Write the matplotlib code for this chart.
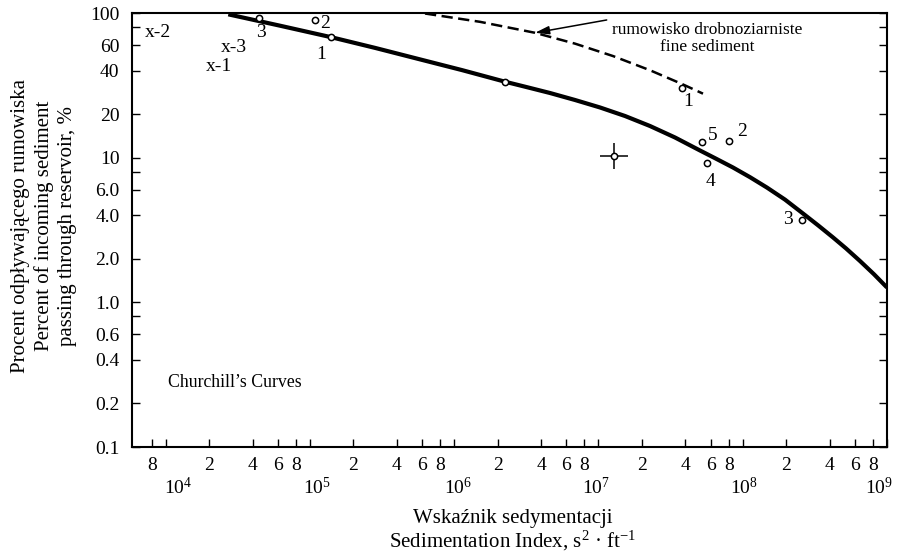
import matplotlib
matplotlib.use('Agg')
import matplotlib.pyplot as plt
from matplotlib.ticker import FixedLocator, FixedFormatter, NullLocator

plt.rcParams['font.family'] = ['Liberation Serif', 'DejaVu Serif']
plt.rcParams['mathtext.fontset'] = 'custom'
plt.rcParams['mathtext.rm'] = 'Liberation Serif'
plt.rcParams['mathtext.it'] = 'Liberation Serif:italic'
plt.rcParams['mathtext.default'] = 'regular'

# ---------------- data ----------------
# Churchill's curve (solid)
curve_x = [2.716e4, 6.20e4, 1.415e5, 2.824e5, 5.79e5, 1.132e6, 2.249e6, 3.095e6,
           4.613e6, 6.877e6, 1.025e7, 1.527e7, 2.276e7, 3.391e7, 5.055e7, 6.527e7,
           8.56e7, 1.123e8, 1.473e8, 1.963e8, 2.617e8, 3.324e8, 4.224e8, 5.197e8,
           6.501e8, 8.127e8, 1.0e9]
curve_y = [97.9, 81.7, 67.9, 57.4, 47.8, 40.3, 33.5, 30.95,
           27.99, 25.04, 22.23, 19.41, 16.55, 13.79, 11.21, 9.84,
           8.55, 7.33, 6.21, 5.13, 4.11, 3.41, 2.81, 2.36,
           1.93, 1.563, 1.266]

# fine sediment curve (dashed)
fine_x = [6.274e5, 1.509e6, 3.631e6, 6.877e6, 1.261e7, 2.276e7, 3.793e7, 5.303e7]
fine_y = [99.2, 86.9, 72.98, 61.4, 50.4, 40.2, 32.3, 27.7]

# observed points (open circles) and their labels
pts_x = [4.43e4, 1.09e5, 1.41e5, 2.25e6, 3.79e7, 5.19e7, 8.06e7, 5.64e7, 2.58e8]
pts_y = [92.8, 89.5, 67.9, 33.5, 30.2, 12.9, 13.1, 9.15, 3.71]
pts_labels = ['3', '2', '1', '', '1', '5', '2', '4', '3']

# point with range cross
cross_x = [1.28e7]
cross_y = [10.2]
cross_factor_x = 1.25
cross_factor_y = 1.23

# tick values and labels
x_tick_vals = [8e3, 1e4, 2e4, 4e4, 6e4, 8e4, 1e5, 2e5, 4e5, 6e5, 8e5, 1e6,
               2e6, 4e6, 6e6, 8e6, 1e7, 2e7, 4e7, 6e7, 8e7, 1e8,
               2e8, 4e8, 6e8, 8e8, 1e9]
x_tick_labels = ['8', '', '2', '4', '6', '8', '', '2', '4', '6', '8', '',
                 '2', '4', '6', '8', '', '2', '4', '6', '8', '',
                 '2', '4', '6', '8', '']
x_decades = [1e4, 1e5, 1e6, 1e7, 1e8, 1e9]
x_decade_labels = [r'$10^{4}$', r'$10^{5}$', r'$10^{6}$', r'$10^{7}$', r'$10^{8}$', r'$10^{9}$']

y_tick_vals = [0.1, 0.2, 0.4, 0.6, 0.8, 1, 2, 4, 6, 8, 10, 20, 40, 60, 80, 100]
y_tick_labels = ['0.1', '0.2', '0.4', '0.6', '', '1.0', '2.0', '4.0', '6.0', '',
                 '10', '20', '40', '60', '', '100']

# ---------------- figure ----------------
W, H = 897, 552
fig = plt.figure(figsize=(W / 100, H / 100), dpi=100)
ax = fig.add_axes([132 / W, (H - 447) / H, (887 - 132) / W, (447 - 13) / H])
ax.set_xscale('log')
ax.set_yscale('log')
ax.set_xlim(5.84e3, 1.0e9)
ax.set_ylim(0.1, 100)

for s in ax.spines.values():
    s.set_linewidth(1.5)

ax.xaxis.set_major_locator(FixedLocator(x_tick_vals))
ax.xaxis.set_major_formatter(FixedFormatter(x_tick_labels))
ax.xaxis.set_minor_locator(NullLocator())
ax.yaxis.set_major_locator(FixedLocator(y_tick_vals))
ax.yaxis.set_major_formatter(FixedFormatter(y_tick_labels))
ax.yaxis.set_minor_locator(NullLocator())
ax.tick_params(axis='x', which='major', direction='in', length=6, width=1.0,
               labelsize=14, pad=7.5, top=False)
ax.tick_params(axis='y', which='major', direction='in', length=6, width=1.0,
               labelsize=14, pad=9, right=True)

decade_dx = [9, 5, 3, -1.5, 1, -6]
for v, lab, dx in zip(x_decades, x_decade_labels, decade_dx):
    ax.annotate(lab, xy=(v, 0), xycoords=('data', 'axes fraction'),
                xytext=(dx, -29.5), textcoords='offset points',
                ha='center', va='center', fontsize=14, annotation_clip=False)

# curves
ax.plot(curve_x, curve_y, color='black', lw=3.0, solid_capstyle='butt',
        solid_joinstyle='round')
ax.plot(fine_x, fine_y, color='black', lw=1.8, linestyle=(0, (4.5, 2.2)))

# points
ax.plot(pts_x, pts_y, linestyle='none', marker='o', markersize=4.5,
        markerfacecolor='white', markeredgecolor='black', markeredgewidth=1.1, zorder=5)
offsets = [(1.4, -11), (7.2, -2.9), (-7.2, -12.7), (0, 0), (4.5, -9.6),
           (8.1, 4.8), (9.1, 6.5), (2.4, -13.2), (-10.4, 0)]
for x, y, lab, off in zip(pts_x, pts_y, pts_labels, offsets):
    if lab:
        ax.annotate(lab, xy=(x, y), xytext=off, textcoords='offset points',
                    ha='center', va='center', fontsize=14)

# cross point
cx, cy = cross_x[0], cross_y[0]
ax.errorbar(cross_x, cross_y,
            xerr=[[cx - cx / cross_factor_x], [cx * cross_factor_x - cx]],
            yerr=[[cy - cy / cross_factor_y], [cy * cross_factor_y - cy]],
            fmt='o', markersize=4.5, markerfacecolor='white', markeredgecolor='black',
            markeredgewidth=1.1, ecolor='black', elinewidth=1.1, capsize=0, zorder=5)

# annotation for fine sediment
ax.annotate('', xy=(fine_x[2], fine_y[2]), xytext=(1.14e7, 89.5),
            arrowprops=dict(arrowstyle='-|>,head_length=0.85,head_width=0.25',
                            color='black', lw=1.1, shrinkA=0, shrinkB=0))
ax.text(5.65e7, 66.7, 'rumowisko drobnoziarniste\nfine sediment', ha='center',
        va='center', fontsize=12.5, linespacing=1.15)

# x-labels in top-left
ax.text(8.84e3, 72.8, 'x-2', ha='center', va='center', fontsize=14)
ax.text(2.97e4, 58.2, 'x-3', ha='center', va='center', fontsize=14)
ax.text(2.34e4, 42.4, 'x-1', ha='center', va='center', fontsize=14)

ax.text(0.048, 0.149, 'Churchill\u2019s Curves', transform=ax.transAxes,
        ha='left', va='center', fontsize=12.8)

# axis labels
ax.set_xlabel('Wskaźnik sedymentacji\nSedimentation Index, s$^{2}$ · ft$^{-1}$',
              fontsize=15, linespacing=1.02, va='center')
ax.xaxis.set_label_coords(0.504, -0.194)
ax.set_ylabel('Procent odpływającego rumowiska\nPercent of incoming sediment\n'
              'passing through reservoir, %', fontsize=15, linespacing=1.28,
              va='center')
ax.yaxis.set_label_coords(-0.117, 0.51)

fig.savefig('out.png', dpi=100)
